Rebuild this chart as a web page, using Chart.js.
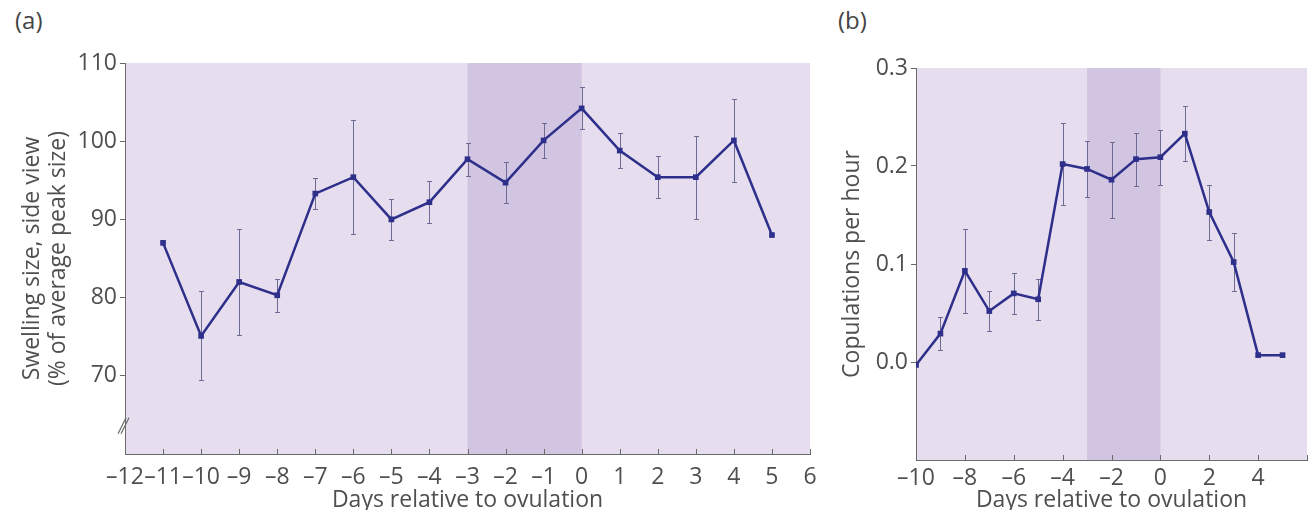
<!DOCTYPE html>
<html>
<head>
<meta charset="utf-8">
<script src="https://cdn.jsdelivr.net/npm/chart.js@4"></script>
<style>
  html, body { margin: 0; padding: 0; background: #fff; }
  body { width: 1311px; height: 510px; position: relative; overflow: hidden; font-family: "Open Sans", sans-serif; }
  .panel { position: absolute; top: 0; height: 510px; }
  #wrapA { left: 0; width: 820px; }
  #wrapB { left: 820px; width: 491px; }
  .tag { position: absolute; top: 3px; font-size: 24px; color: #444; }
</style>
</head>
<body>
<div class="tag" style="left:15px">(a)</div>
<div class="tag" style="left:838px">(b)</div>
<div class="panel" id="wrapA"><canvas id="chartA" width="820" height="510"></canvas></div>
<div class="panel" id="wrapB"><canvas id="chartB" width="491" height="510"></canvas></div>
<script>
// Panel (a): swelling size
const daysA = [-11, -10, -9, -8, -7, -6, -5, -4, -3, -2, -1, 0, 1, 2, 3, 4, 5];
const swelling = [87.0, 75.1, 82.0, 80.3, 93.3, 95.4, 90.0, 92.2, 97.7, 94.7, 100.1, 104.2, 98.8, 95.4, 95.4, 100.1, 88.0];
const swellingErr = [0, 5.7, 6.8, 2.1, 2.0, 7.3, 2.6, 2.7, 2.1, 2.6, 2.2, 2.7, 2.2, 2.7, 5.3, 5.3, 0];
const xTicksA = [-12, -11, -10, -9, -8, -7, -6, -5, -4, -3, -2, -1, 0, 1, 2, 3, 4, 5, 6];
const yTicksA = [70, 80, 90, 100, 110];

// Panel (b): copulations per hour
const daysB = [-10, -9, -8, -7, -6, -5, -4, -3, -2, -1, 0, 1, 2, 3, 4, 5];
const copulations = [-0.003, 0.029, 0.093, 0.052, 0.070, 0.064, 0.202, 0.197, 0.186, 0.207, 0.209, 0.233, 0.153, 0.102, 0.007, 0.007];
const copulationsErr = [0, 0.017, 0.043, 0.020, 0.021, 0.021, 0.042, 0.029, 0.039, 0.027, 0.028, 0.028, 0.028, 0.030, 0, 0];
const xTicksB = [-10, -8, -6, -4, -2, 0, 2, 4];
const yTicksB = [0, 0.1, 0.2, 0.3];

const fertileWindow = [-3, 0];

const lineColor = '#2d2f8a';
const errColor = '#6d6a93';
const axisColor = '#6a6a6a';
const textColor = '#4f4f4f';

const panelBg = {
    id: 'panelBg',
    beforeDraw(chart) {
        const { ctx, chartArea: a, scales: { x } } = chart;
        ctx.save();
        ctx.fillStyle = '#e6ddee';
        ctx.fillRect(a.left, a.top, a.right - a.left, a.bottom - a.top);
        const x0 = x.getPixelForValue(fertileWindow[0]);
        const x1 = x.getPixelForValue(fertileWindow[1]);
        ctx.fillStyle = '#d2c5e1';
        ctx.fillRect(x0, a.top, x1 - x0, a.bottom - a.top);
        ctx.restore();
    }
};

const errorBars = {
    id: 'errorBars',
    beforeDatasetsDraw(chart) {
        const { ctx, scales: { x, y } } = chart;
        ctx.save();
        ctx.strokeStyle = errColor;
        ctx.lineWidth = 1;
        chart.data.datasets.forEach(ds => {
            ds.data.forEach((p, i) => {
                const e = ds.errors[i];
                if (!e) return;
                const px = Math.round(x.getPixelForValue(p.x)) + 0.5;
                const top = Math.round(y.getPixelForValue(p.y + e)) + 0.5;
                const bot = Math.round(y.getPixelForValue(p.y - e)) + 0.5;
                ctx.beginPath();
                ctx.moveTo(px, top); ctx.lineTo(px, bot);
                ctx.moveTo(px - 2.5, top); ctx.lineTo(px + 2.5, top);
                ctx.moveTo(px - 2.5, bot); ctx.lineTo(px + 2.5, bot);
                ctx.stroke();
            });
        });
        ctx.restore();
    }
};

// inward tick marks on the x axis, plus the axis break on panel (a)
const axisExtras = {
    id: 'axisExtras',
    afterDraw(chart, args, opts) {
        const { ctx, chartArea: a, scales: { x, y } } = chart;
        ctx.save();
        ctx.strokeStyle = axisColor;
        ctx.lineWidth = 1;
        ctx.beginPath();
        x.ticks.forEach(t => {
            const px = Math.round(x.getPixelForValue(t.value)) + 0.5;
            ctx.moveTo(px, a.bottom);
            ctx.lineTo(px, a.bottom - 5);
        });
        ctx.stroke();
        if (opts.breakAt !== undefined) {
            const by = y.getPixelForValue(opts.breakAt);
            ctx.lineWidth = 1.2;
            ctx.beginPath();
            ctx.moveTo(a.left - 7, by + 8); ctx.lineTo(a.left + 1, by - 8);
            ctx.moveTo(a.left - 4, by + 8); ctx.lineTo(a.left + 4, by - 8);
            ctx.stroke();
        }
        ctx.restore();
    }
};

const tickFont = { family: '"Open Sans", sans-serif', size: 23 };
const xTitleFont = { family: '"Open Sans", sans-serif', size: 23, lineHeight: 0.85 };
const yTitleFont = { family: '"Open Sans", sans-serif', size: 23, lineHeight: 1.15 };

function makeChart(canvasId, days, values, errs, cfg) {
    return new Chart(document.getElementById(canvasId), {
        type: 'line',
        data: {
            datasets: [{
                data: days.map((d, i) => ({ x: d, y: values[i] })),
                errors: errs,
                borderColor: lineColor,
                backgroundColor: lineColor,
                borderWidth: 2.5,
                pointStyle: 'rect',
                pointRadius: 4,
                pointBorderWidth: 0,
                tension: 0
            }]
        },
        options: {
            responsive: false,
            animation: false,
            layout: { padding: cfg.padding },
            plugins: {
                legend: { display: false },
                tooltip: { enabled: false },
                axisExtras: { breakAt: cfg.breakAt }
            },
            scales: {
                x: {
                    type: 'linear',
                    min: cfg.xMin, max: cfg.xMax,
                    afterFit: s => {
                        s.height = cfg.xHeight;
                        s.paddingLeft = 0;
                        s.paddingRight = 0;
                    },
                    border: { color: axisColor, width: 1 },
                    grid: { drawOnChartArea: false, drawTicks: false },
                    ticks: {
                        stepSize: cfg.xStep,
                        padding: cfg.xPad,
                        color: textColor,
                        font: tickFont,
                        maxRotation: 0,
                        autoSkip: false,
                        callback: v => cfg.xLabels.includes(v) ? String(v).replace('-', '\u2013') : ''
                    },
                    title: {
                        display: true,
                        text: 'Days relative to ovulation',
                        color: textColor,
                        font: xTitleFont,
                        padding: { top: 0, bottom: 0 }
                    }
                },
                y: {
                    min: cfg.yMin, max: cfg.yMax,
                    afterFit: s => {
                        s.width = cfg.yWidth;
                        s.paddingTop = 0;
                        s.paddingBottom = 0;
                    },
                    border: { color: axisColor, width: 1 },
                    grid: {
                        drawOnChartArea: false,
                        tickLength: 5,
                        color: c => cfg.yLabels.some(v => Math.abs(v - c.tick.value) < 1e-9) ? axisColor : 'rgba(0,0,0,0)'
                    },
                    ticks: {
                        stepSize: cfg.yStep,
                        padding: 3,
                        color: textColor,
                        font: tickFont,
                        callback: v => {
                            const hit = cfg.yLabels.some(t => Math.abs(t - v) < 1e-9);
                            return hit ? cfg.yFmt(v) : '';
                        }
                    },
                    title: {
                        display: true,
                        text: cfg.yTitle,
                        color: textColor,
                        font: yTitleFont,
                        padding: { top: cfg.yTitlePad, bottom: 0 }
                    }
                }
            }
        },
        plugins: [panelBg, errorBars, axisExtras]
    });
}

document.addEventListener('DOMContentLoaded', () => {
    makeChart('chartA', daysA, swelling, swellingErr, {
        padding: { top: 63, right: 10, left: 0, bottom: 0 },
        xMin: -12, xMax: 6, xStep: 1,
        xLabels: xTicksA,
        xHeight: 56,
        xPad: 10,
        yMin: 60, yMax: 110, yStep: 10,
        yLabels: yTicksA,
        yFmt: v => String(v),
        yWidth: 125,
        yTitle: ['Swelling size, side view', '(% of average peak size)'],
        yTitlePad: 19,
        breakAt: 63.6
    });

    makeChart('chartB', daysB, copulations, copulationsErr, {
        padding: { top: 68, right: 4, left: 0, bottom: 0 },
        xMin: -10, xMax: 6, xStep: 2,
        xLabels: xTicksB,
        xHeight: 50,
        xPad: 5,
        yMin: -0.1, yMax: 0.3, yStep: 0.1,
        yLabels: yTicksB,
        yFmt: v => v.toFixed(1),
        yWidth: 96,
        yTitle: 'Copulations per hour',
        yTitlePad: 19
    });
});
</script>
</body>
</html>
